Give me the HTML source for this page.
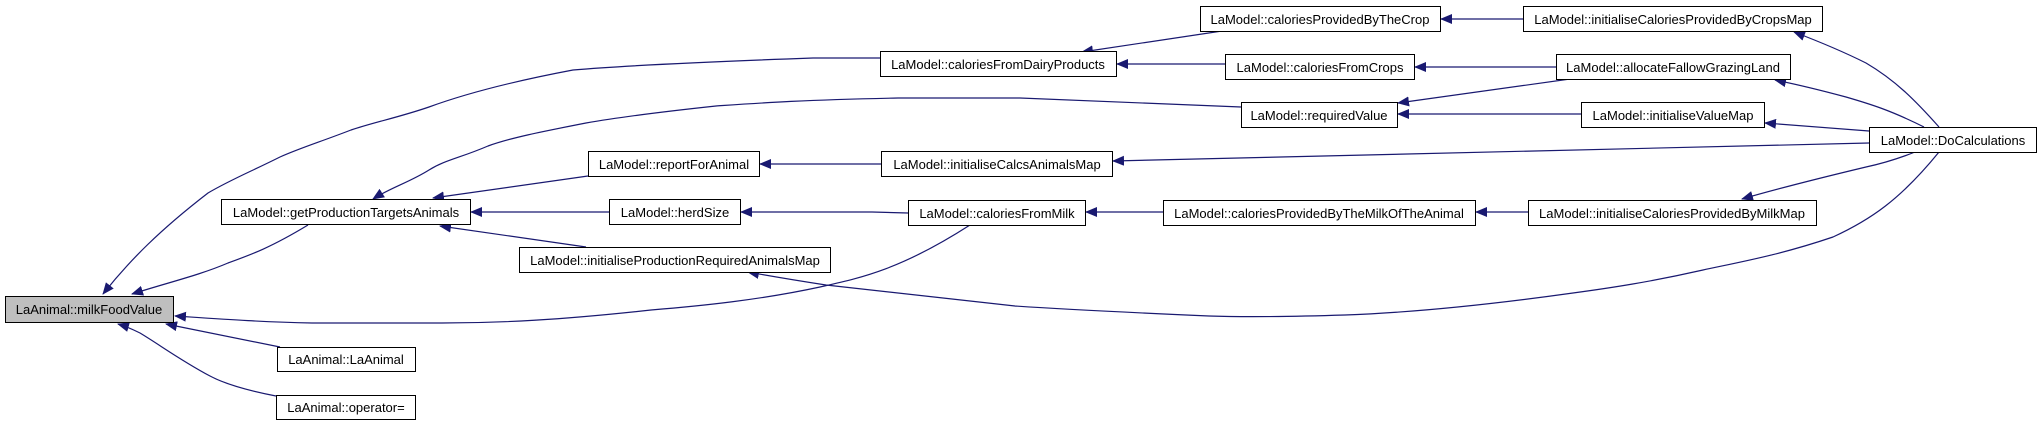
<!DOCTYPE html>
<html><head><meta charset="utf-8"><style>
html,body{margin:0;padding:0;background:#fff;}
svg{display:block;}
text{font-family:"Liberation Sans",Helvetica,sans-serif;font-size:13px;fill:#000;}
.b{fill:#fff;stroke:#000;stroke-width:1;}
.e{fill:none;stroke:#191970;stroke-width:1.2;}
</style></head><body>
<svg width="2040" height="423" viewBox="0 0 2040 423" xmlns="http://www.w3.org/2000/svg">
<defs><marker id="a" markerWidth="12" markerHeight="10" refX="11" refY="5" orient="auto" markerUnits="userSpaceOnUse"><path d="M0,0 L12,5 L0,10 Z" fill="#191970"/></marker></defs>
<g class="e" marker-end="url(#a)">
<path d="M880,58 L813,58 C700,62 620,66 573,70 C520,80 470,92 429,107 C400,117 375,122 351,130 C320,142 300,148 280,157 C250,172 230,180 208,193 C160,230 130,260 103,294"/>
<path d="M308,225 C270,248 250,255 228,263 C200,275 170,282 132,294"/>
<path d="M970,225 C900,270 860,278 820,287 C760,300 700,306 651,310 C560,320 500,323 442,323 C380,323 340,323 312,323 C260,322 220,319 175,316"/>
<path d="M280,347 L166,324"/>
<path d="M276,396 C245,390 225,384 210,376 C180,360 160,345 140,333 C130,328 125,326 118,324"/>
<path d="M1241,107 L1020,98 L898,98 C800,100 760,103 716,106 C660,112 620,117 586,123 C540,132 510,138 488,146 C460,158 445,160 429,170 C410,182 390,188 373,199"/>
<path d="M588,176 L433,198"/>
<path d="M609,212 L471,212"/>
<path d="M586,247 L440,226"/>
<path d="M881,164 L760,164"/>
<path d="M908,213 L872,212 L741,212"/>
<path d="M1939,152 C1900,200 1870,220 1833,237 C1780,255 1740,262 1703,270 C1650,282 1610,288 1573,293 C1480,306 1400,313 1345,315 C1280,317 1240,317 1209,316 C1140,313 1060,309 1015,306 C920,295 870,290 826,285 C800,281 770,276 748,272"/>
<path d="M1222,31 L1082,52"/>
<path d="M1225,64 L1117,64"/>
<path d="M1523,19 L1441,19"/>
<path d="M1556,67 L1415,67"/>
<path d="M1570,79 L1398,103"/>
<path d="M1581,114 L1398,114"/>
<path d="M1939,127 C1915,100 1895,80 1866,63 C1840,50 1815,40 1794,32"/>
<path d="M1924,127 C1890,110 1870,104 1846,97 C1820,90 1795,84 1775,80"/>
<path d="M1869,131 L1765,123"/>
<path d="M1869,143 L1113,161"/>
<path d="M1915,152 C1895,160 1880,164 1866,167 C1820,178 1780,188 1742,199"/>
<path d="M1528,212 L1476,212"/>
<path d="M1163,212 L1086,212"/>
</g>
<rect x="5.5" y="296.5" width="168" height="26" style="fill:#bfbfbf;stroke:#000"/>
<text x="89" y="314" text-anchor="middle">LaAnimal::milkFoodValue</text>
<g class="b">
<rect x="221.5" y="199.5" width="249" height="25"/>
<rect x="588.5" y="151.5" width="171" height="25"/>
<rect x="609.5" y="199.5" width="131" height="25"/>
<rect x="519.5" y="247.5" width="311" height="25"/>
<rect x="277.5" y="347.5" width="138" height="24"/>
<rect x="276.5" y="395.5" width="139" height="24"/>
<rect x="880.5" y="51.5" width="236" height="25"/>
<rect x="881.5" y="151.5" width="231" height="25"/>
<rect x="908.5" y="200.5" width="177" height="25"/>
<rect x="1200.5" y="6.5" width="240" height="25"/>
<rect x="1523.5" y="6.5" width="299" height="25"/>
<rect x="1225.5" y="54.5" width="189" height="25"/>
<rect x="1556.5" y="54.5" width="234" height="25"/>
<rect x="1241.5" y="102.5" width="156" height="25"/>
<rect x="1581.5" y="102.5" width="183" height="25"/>
<rect x="1869.5" y="127.5" width="167" height="25"/>
<rect x="1163.5" y="200.5" width="312" height="25"/>
<rect x="1528.5" y="200.5" width="288" height="25"/>
</g>
<g text-anchor="middle">
<text x="346" y="217">LaModel::getProductionTargetsAnimals</text>
<text x="674" y="169">LaModel::reportForAnimal</text>
<text x="675" y="217">LaModel::herdSize</text>
<text x="675" y="265">LaModel::initialiseProductionRequiredAnimalsMap</text>
<text x="346" y="364">LaAnimal::LaAnimal</text>
<text x="346" y="412">LaAnimal::operator=</text>
<text x="998" y="69">LaModel::caloriesFromDairyProducts</text>
<text x="997" y="169">LaModel::initialiseCalcsAnimalsMap</text>
<text x="997" y="218">LaModel::caloriesFromMilk</text>
<text x="1320" y="24">LaModel::caloriesProvidedByTheCrop</text>
<text x="1673" y="24">LaModel::initialiseCaloriesProvidedByCropsMap</text>
<text x="1320" y="72">LaModel::caloriesFromCrops</text>
<text x="1673" y="72">LaModel::allocateFallowGrazingLand</text>
<text x="1319" y="120">LaModel::requiredValue</text>
<text x="1673" y="120">LaModel::initialiseValueMap</text>
<text x="1953" y="145">LaModel::DoCalculations</text>
<text x="1319" y="218">LaModel::caloriesProvidedByTheMilkOfTheAnimal</text>
<text x="1672" y="218">LaModel::initialiseCaloriesProvidedByMilkMap</text>
</g>
</svg>
</body></html>
